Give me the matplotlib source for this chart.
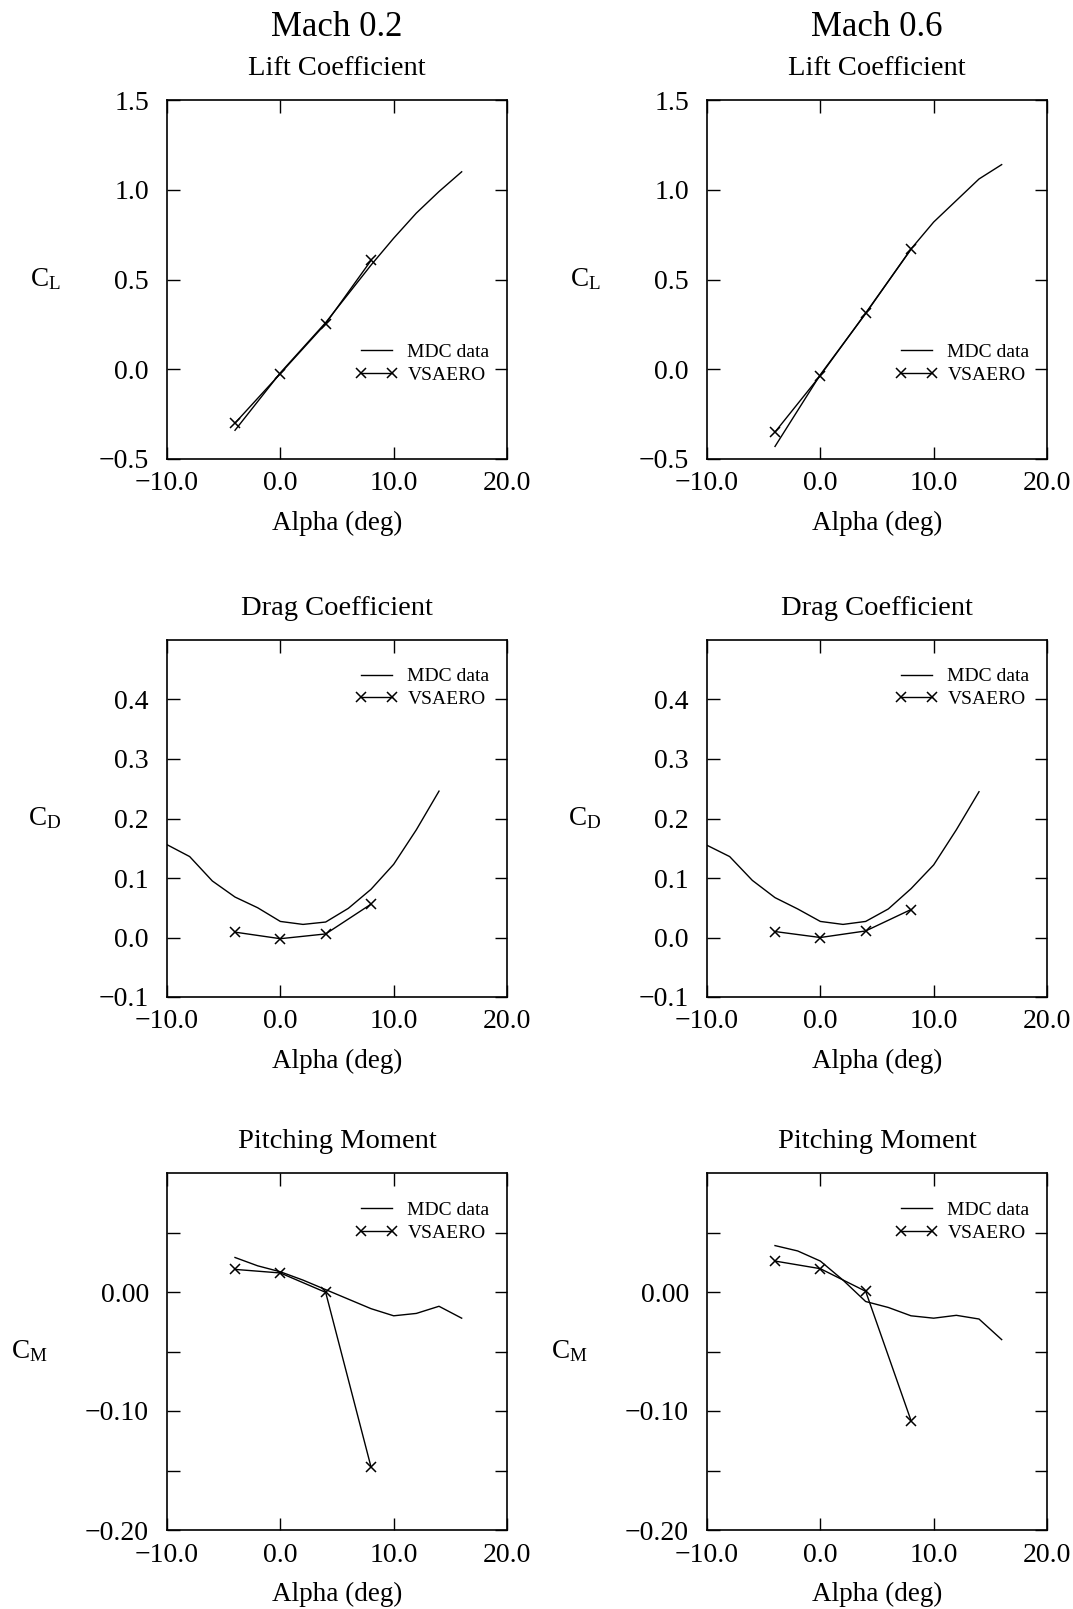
import matplotlib
matplotlib.use('Agg')
import matplotlib.pyplot as plt
from matplotlib.ticker import FixedLocator, FuncFormatter

plt.rcParams['font.family'] = ['Liberation Serif', 'DejaVu Serif']
plt.rcParams['mathtext.fontset'] = 'custom'
plt.rcParams['mathtext.rm'] = 'Liberation Serif'
plt.rcParams['mathtext.it'] = 'Liberation Serif:italic'

# ---------------- data ----------------
alpha_vs = [-4, 0, 4, 8]

# lift
alpha_cl = [-4, -2, 0, 2, 4, 6, 8, 10, 12, 14, 16]
cl_mdc_02 = [-0.34, -0.18, -0.02, 0.12, 0.26, 0.42, 0.58, 0.73, 0.87, 0.99, 1.10]
cl_vs_02 = [-0.30, -0.024, 0.254, 0.606]
cl_mdc_06 = [-0.43, -0.23, -0.03, 0.14, 0.31, 0.49, 0.67, 0.82, 0.94, 1.06, 1.14]
cl_vs_06 = [-0.35, -0.035, 0.313, 0.668]

# drag
alpha_cd = [-10, -8, -6, -4, -2, 0, 2, 4, 6, 8, 10, 12, 14]
cd_mdc_02 = [0.156, 0.136, 0.095, 0.068, 0.050, 0.027, 0.022, 0.026, 0.049, 0.081, 0.123, 0.181, 0.246]
cd_vs_02 = [0.009, -0.002, 0.006, 0.056]
cd_mdc_06 = [0.155, 0.136, 0.096, 0.067, 0.048, 0.027, 0.022, 0.027, 0.048, 0.082, 0.122, 0.181, 0.245]
cd_vs_06 = [0.010, 0.000, 0.011, 0.047]

# pitching moment
alpha_cm = [-4, -2, 0, 2, 4, 6, 8, 10, 12, 14, 16]
cm_mdc_02 = [0.029, 0.022, 0.017, 0.010, 0.002, -0.006, -0.014, -0.020, -0.018, -0.012, -0.022]
cm_vs_02 = [0.019, 0.016, -0.0003, -0.147]
cm_mdc_06 = [0.039, 0.0345, 0.026, 0.010, -0.008, -0.013, -0.020, -0.022, -0.0196, -0.0227, -0.040]
cm_vs_06 = [0.026, 0.0196, 0.0006, -0.108]

mach_titles = ['Mach 0.2', 'Mach 0.6']

# ---------------- figure ----------------
fig = plt.figure(figsize=(10.73, 16.09), dpi=100)

W, H = 1073.0, 1609.0
col_x = [167, 707]
col_w = 340
rows = [(100, 459), (640, 997), (1173, 1530)]


def fmt_minus(fmtstr, labelled=None):
    def f(v, pos):
        if labelled is not None and not any(abs(v - l) < 1e-9 for l in labelled):
            return ''
        s = fmtstr % v
        if s.startswith('-') and float(s) == 0:
            s = s[1:]
        return s.replace('-', '\u2212')
    return FuncFormatter(f)


def setup(ax, ylim, yticks, ylabel, title, yfmt, ylab=None):
    ax.set_xlim(-10, 20)
    ax.set_ylim(*ylim)
    ax.xaxis.set_major_locator(FixedLocator([-10, 0, 10, 20]))
    ax.xaxis.set_major_formatter(fmt_minus('%.1f'))
    ax.yaxis.set_major_locator(FixedLocator(yticks))
    ax.yaxis.set_major_formatter(fmt_minus(yfmt, ylab))
    ax.tick_params(direction='in', length=9, width=1.0, top=True, right=True,
                   labelsize=20)
    ax.tick_params(axis='y', pad=13)
    ax.tick_params(axis='x', pad=9)
    for sp in ax.spines.values():
        sp.set_linewidth(1.2)
    ax.set_xlabel('Alpha (deg)', fontsize=19.5, labelpad=10)
    ax.set_ylabel(ylabel, fontsize=19.5, rotation=0, ha='right', va='center', labelpad=27)
    ax.set_title(title, fontsize=20.5, pad=18)


panels = [
    ('Lift Coefficient', r'$\mathrm{C_L}$', (-0.5, 1.5), [-0.5, 0.0, 0.5, 1.0, 1.5], '%.1f', None,
     alpha_cl, [cl_mdc_02, cl_mdc_06], [cl_vs_02, cl_vs_06], 0.266),
    ('Drag Coefficient', r'$\mathrm{C_D}$', (-0.1, 0.5), [-0.1, 0.0, 0.1, 0.2, 0.3, 0.4], '%.1f', None,
     alpha_cd, [cd_mdc_02, cd_mdc_06], [cd_vs_02, cd_vs_06], 0.866),
    ('Pitching Moment', r'$\mathrm{C_M}$', (-0.2, 0.1),
     [-0.20, -0.15, -0.10, -0.05, 0.0, 0.05], '%.2f', [-0.20, -0.10, 0.0],
     alpha_cm, [cm_mdc_02, cm_mdc_06], [cm_vs_02, cm_vs_06], 0.864),
]

for r, (title, ylabel, ylim, yticks, yfmt, ylab, a_mdc, mdc, vs, leg_y) in enumerate(panels):
    top, bot = rows[r]
    for c in range(2):
        ax = fig.add_axes([col_x[c] / W, 1 - bot / H, col_w / W, (bot - top) / H])
        setup(ax, ylim, yticks, ylabel, title, yfmt, ylab)
        l1, = ax.plot(a_mdc, mdc[c], color='black', lw=1.0, label='MDC data')
        l2, = ax.plot(alpha_vs, vs[c], color='black', lw=1.0, marker='x',
                      markersize=7, markeredgewidth=1.1, label='VSAERO')
        ax.legend(handles=[l1, l2], loc='center right', bbox_to_anchor=(1.0, leg_y),
                  frameon=False, fontsize=14, handlelength=2.2, handletextpad=0.5,
                  labelspacing=0.25, numpoints=2)

for c in range(2):
    fig.text((col_x[c] + col_w / 2) / W, 1 - 36 / H, mach_titles[c],
             ha='center', va='baseline', fontsize=25)

fig.savefig('out.png', dpi=100)
